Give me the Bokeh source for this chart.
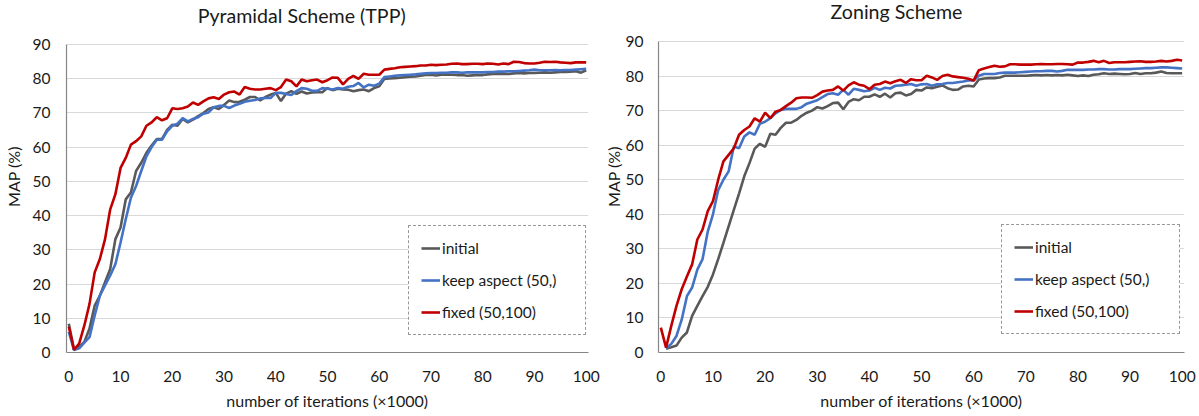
import numpy as np
from bokeh.plotting import figure
from bokeh.layouts import row
from bokeh.models import Range1d, FixedTicker, Legend, LegendItem, Label
from bokeh.embed import file_html
from bokeh.resources import INLINE

# ---------------- data ----------------
ITER = list(range(0, 101))  # x1000 iterations
X_TICKS = [0, 10, 20, 30, 40, 50, 60, 70, 80, 90, 100]
Y_TICKS = [0, 10, 20, 30, 40, 50, 60, 70, 80, 90]
SERIES_NAMES = ["initial", "keep aspect (50,)", "fixed (50,100)"]
SERIES_COLORS = ["#595959", "#4472C4", "#C00000"]

# Pyramidal Scheme (TPP)
tpp_initial = [
    8.4, 0.9, 1.6, 3.1, 7.0, 13.7, 16.6, 20.5, 24.4, 33.1,
    36.5, 44.7, 46.7, 53.0, 55.4, 58.3, 60.4, 62.3, 62.3, 65.0,
    66.5, 66.2, 68.2, 67.2, 68.0, 69.0, 69.9, 71.1, 71.6, 71.1,
    72.3, 73.6, 73.1, 73.2, 73.8, 74.6, 74.6, 73.6, 74.6, 75.3,
    75.8, 73.4, 75.6, 76.3, 75.5, 76.2, 75.6, 75.9, 76.0, 76.0,
    77.2, 76.6, 77.0, 76.8, 76.7, 76.3, 76.6, 76.8, 76.3, 77.2,
    77.7, 79.9, 80.0, 80.1, 80.2, 80.4, 80.5, 80.6, 80.8, 81.0,
    81.1, 80.9, 81.1, 81.1, 81.1, 81.0, 81.0, 80.8, 80.9, 81.0,
    81.0, 81.2, 81.3, 81.3, 81.4, 81.3, 81.5, 81.6, 81.5, 81.6,
    81.6, 81.7, 81.8, 81.7, 81.8, 81.9, 81.9, 82.0, 82.1, 81.7,
    82.4]
tpp_keep = [
    6.0, 0.7, 1.2, 2.9, 4.5, 10.8, 16.6, 19.6, 22.5, 25.8,
    32.1, 38.9, 45.2, 48.6, 53.0, 57.3, 60.0, 62.1, 62.1, 64.6,
    66.2, 66.8, 68.4, 67.5, 68.2, 68.7, 69.7, 70.1, 71.6, 72.0,
    72.0, 71.4, 72.1, 72.6, 73.2, 73.5, 73.7, 74.2, 74.3, 74.3,
    75.8, 75.8, 75.5, 75.2, 76.3, 77.2, 77.0, 76.4, 76.4, 77.2,
    77.0, 76.8, 77.2, 77.0, 77.6, 77.8, 78.7, 77.4, 78.2, 77.9,
    78.5, 80.4, 80.6, 80.8, 80.9, 81.0, 81.1, 81.2, 81.4, 81.5,
    81.6, 81.6, 81.7, 81.7, 81.8, 81.8, 81.7, 81.8, 81.8, 81.8,
    81.8, 81.9, 81.9, 82.0, 82.0, 82.1, 82.1, 82.2, 82.3, 82.4,
    82.6, 82.4, 82.4, 82.4, 82.5, 82.4, 82.5, 82.5, 82.6, 82.7,
    82.8]
tpp_fixed = [
    7.5, 0.8, 2.6, 7.9, 14.2, 23.4, 27.3, 33.1, 41.8, 46.2,
    53.9, 56.8, 60.7, 61.7, 63.1, 66.2, 67.2, 68.7, 67.8, 68.4,
    71.3, 71.1, 71.3, 71.8, 73.0, 72.3, 73.3, 74.2, 74.5, 74.0,
    75.3, 76.0, 76.2, 75.3, 77.5, 77.0, 76.8, 76.8, 77.0, 77.2,
    76.6, 77.5, 79.7, 79.2, 77.7, 79.7, 79.2, 79.5, 79.7, 78.9,
    79.5, 80.3, 80.2, 78.3, 79.9, 80.8, 79.9, 81.4, 81.1, 81.1,
    81.1, 82.6, 82.8, 83.0, 83.3, 83.4, 83.5, 83.6, 83.8, 83.8,
    84.0, 83.9, 84.0, 84.1, 84.3, 84.4, 84.2, 84.2, 84.3, 84.3,
    84.2, 84.4, 84.3, 84.1, 84.4, 84.2, 84.9, 84.8, 84.5, 84.4,
    84.4, 84.6, 84.9, 84.8, 84.9, 84.7, 84.6, 84.5, 84.7, 84.7,
    84.7]

# Zoning Scheme
zone_initial = [
    None, 1.1, 1.5, 2.0, 4.3, 5.8, 10.6, 13.5, 16.3, 19.0,
    22.6, 27.0, 31.7, 36.5, 41.3, 46.0, 51.0, 54.8, 59.0, 60.4,
    59.5, 63.3, 63.0, 65.0, 66.5, 66.5, 67.3, 68.5, 69.4, 70.0,
    71.0, 70.6, 71.3, 72.2, 72.3, 70.4, 72.5, 73.3, 73.0, 74.0,
    74.0, 74.7, 74.0, 74.9, 73.8, 75.0, 75.2, 74.4, 74.8, 76.0,
    75.8, 76.7, 76.5, 76.9, 77.3, 76.5, 76.0, 76.1, 77.0, 77.2,
    77.0, 79.0, 79.3, 79.4, 79.4, 79.6, 80.1, 80.1, 80.1, 80.1,
    80.1, 80.2, 80.3, 80.2, 80.3, 80.2, 80.3, 80.2, 80.4, 80.2,
    80.0, 80.2, 80.0, 80.4, 80.5, 80.8, 80.6, 80.7, 80.6, 80.5,
    80.6, 80.9, 80.6, 80.8, 80.8, 81.0, 81.3, 80.9, 80.8, 80.8,
    80.8]
zone_keep = [
    None, 1.2, 2.5, 4.8, 9.5, 16.3, 18.8, 24.0, 27.0, 35.0,
    40.0, 47.0, 50.0, 52.4, 59.6, 59.1, 62.5, 63.7, 63.0, 66.2,
    66.8, 67.8, 69.2, 70.2, 70.5, 70.5, 70.5, 71.0, 72.0, 72.5,
    73.0, 73.9, 74.8, 75.0, 74.6, 76.0, 74.6, 76.3, 76.0, 75.6,
    75.8, 76.6, 76.0, 76.6, 76.4, 77.2, 77.3, 77.5, 77.7, 77.2,
    77.6, 77.7, 77.2, 77.6, 77.7, 78.0, 78.0, 78.2, 78.4, 78.7,
    78.7, 80.1, 80.6, 80.6, 80.6, 80.9, 81.0, 81.0, 81.0, 81.1,
    81.2, 81.3, 81.4, 81.4, 81.5, 81.5, 81.3, 81.5, 81.8, 81.8,
    81.8, 81.8, 81.9, 81.9, 82.0, 82.0, 81.9, 81.9, 82.0, 82.0,
    82.0, 82.1, 82.2, 82.3, 82.3, 82.4, 82.5, 82.5, 82.4, 82.3,
    82.2]
zone_fixed = [
    7.2, 1.4, 7.7, 13.5, 18.3, 22.0, 25.5, 32.7, 35.6, 40.9,
    43.8, 50.0, 55.3, 57.2, 59.1, 63.0, 64.4, 65.4, 67.8, 66.8,
    69.4, 67.8, 69.7, 70.2, 71.3, 72.3, 73.6, 73.8, 73.8, 73.7,
    74.5, 75.5, 75.8, 76.0, 77.0, 75.8, 77.3, 78.2, 77.5, 77.2,
    76.2, 77.5, 77.7, 78.4, 77.9, 78.5, 78.9, 78.0, 79.1, 78.8,
    78.8, 80.1, 79.6, 78.9, 80.0, 80.4, 79.9, 79.7, 79.5, 79.2,
    78.7, 81.7, 82.2, 82.6, 83.0, 82.7, 82.8, 83.4, 83.4, 83.3,
    83.3, 83.3, 83.4, 83.5, 83.4, 83.4, 83.5, 83.5, 83.4, 83.3,
    83.9, 83.9, 84.1, 84.4, 84.0, 84.4, 83.8, 84.0, 84.0, 84.0,
    84.1, 84.2, 84.3, 84.1, 84.1, 84.2, 84.4, 84.2, 84.4, 84.7,
    84.5]

FONT = "Lato"
TEXT_COLOR = "#1a1a1a"
Y_MAX = 90  # top of the value axis


def make_chart(title, series, width, border, frame_top_px, title_anchor,
               legend_loc, legend_w, ylab_standoffs):
    left, right, bottom = border
    height = 416
    frame_h = height - bottom
    # The frame reaches the top of the canvas so that the title can sit inside it;
    # the visible value axis (gridlines, axis line) stops at Y_MAX.
    y_end = Y_MAX * frame_h / (frame_h - frame_top_px)
    p = figure(width=width, height=height,
               x_range=Range1d(-0.45, 100.45), y_range=Range1d(0, y_end),
               output_backend="svg", toolbar_location=None,
               min_border_left=left, min_border_right=right,
               min_border_top=0, min_border_bottom=bottom)
    p.title.text = ""
    p.add_layout(Label(x=title_anchor[0], y=title_anchor[1], text=title,
                       text_align="center", text_baseline="alphabetic",
                       text_font=FONT, text_font_size="19.6px",
                       text_color=TEXT_COLOR))

    p.outline_line_color = None
    p.xgrid.visible = False
    p.ygrid.grid_line_color = "#d9d9d9"
    p.ygrid.grid_line_width = 1

    p.xaxis.ticker = FixedTicker(ticks=X_TICKS)
    p.yaxis.ticker = FixedTicker(ticks=Y_TICKS)
    p.yaxis.bounds = (0, Y_MAX)
    for ax in (p.xaxis[0], p.yaxis[0]):
        ax.major_tick_out = 0
        ax.major_tick_in = 0
        ax.minor_tick_out = 0
        ax.minor_tick_in = 0
        ax.axis_line_color = "#868686"
        ax.axis_line_width = 1.2
        ax.major_label_text_font = FONT
        ax.major_label_text_font_size = "15.5px"
        ax.major_label_text_color = TEXT_COLOR
        ax.axis_label_text_font = FONT
        ax.axis_label_text_font_size = "16px"
        ax.axis_label_text_font_style = "normal"
        ax.axis_label_text_color = TEXT_COLOR
    p.xaxis.axis_label = "number of iterations (×1000)"
    p.yaxis.axis_label = "MAP (%)"
    p.xaxis.major_label_standoff = 18
    p.xaxis.axis_label_standoff = 6
    p.yaxis.major_label_standoff = ylab_standoffs[0]
    p.yaxis.axis_label_standoff = ylab_standoffs[1]

    items = []
    for name, color, vals in zip(SERIES_NAMES, SERIES_COLORS, series):
        y = np.array([np.nan if v is None else v for v in vals], dtype=float)
        r = p.line(ITER, y, line_color=color, line_width=2.6)
        items.append(LegendItem(label=name, renderers=[r]))

    legend = Legend(items=items, location=legend_loc,
                    border_line_color="#333333", border_line_dash="4 2",
                    border_line_width=1, background_fill_color="white",
                    background_fill_alpha=1.0,
                    padding=12, spacing=12, margin=0,
                    label_standoff=2, glyph_width=19, glyph_height=20,
                    label_height=20, label_width=legend_w,
                    label_text_font=FONT, label_text_font_size="15.5px",
                    label_text_color=TEXT_COLOR)
    p.add_layout(legend)
    return p


p1 = make_chart("Pyramidal Scheme (TPP)", [tpp_initial, tpp_keep, tpp_fixed],
                600, (64, 12, 62), 44, (45.0, 98.3), (342, 17), 131, (16, 7))
p2 = make_chart("Zoning Scheme", [zone_initial, zone_keep, zone_fixed],
                599, (58, 15, 64), 41, (45.2, 98.6), (343, 18), 132, (15, 0))

layout = row(p1, p2)
open("out.html", "w").write(file_html(layout, INLINE))
